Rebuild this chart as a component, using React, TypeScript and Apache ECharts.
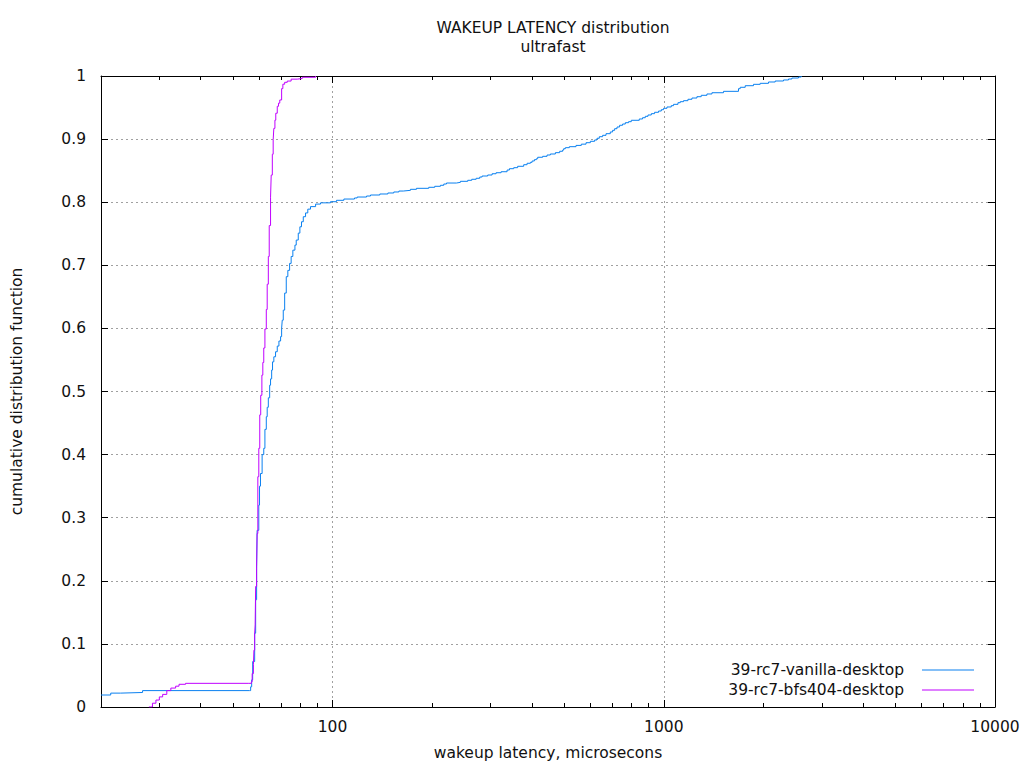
import React, { useEffect, useRef } from "react";
import * as echarts from "echarts";

const titleText = "WAKEUP LATENCY distribution";
const subtitleText = "ultrafast";
const xAxisName = "wakeup latency, microsecons";
const yAxisName = "cumulative distribution function";
const seriesNames = ["39-rc7-vanilla-desktop", "39-rc7-bfs404-desktop"];

const majorXTicks = [100, 1000, 10000];
const minorXTicks = [
  20, 30, 40, 50, 60, 70, 80, 90,
  200, 300, 400, 500, 600, 700, 800, 900,
  2000, 3000, 4000, 5000, 6000, 7000, 8000, 9000,
];

const vanillaX = [
  20, 21.4, 22.9, 26.7, 56.2, 56.6, 57.0, 57.4, 58.2, 58.6, 59.0, 59.2, 59.9, 60.2, 60.6,
  61.3, 62.0, 62.5, 63.1, 63.5, 64.0, 64.6, 65.0, 65.5, 65.9, 66.5, 67.3, 68.1, 68.9,
  69.7, 70.2, 70.5, 71.0, 71.7, 72.5, 73.3, 74.2, 75.0, 75.9, 77.0, 77.7, 78.8, 79.7,
  80.6, 81.6, 82.9, 84.2, 85.8, 88.9, 92.0,
  98.6, 102.8, 108.2, 116.5, 118.7, 126.7, 130.2, 138.9, 146.9, 153.1, 158.6, 163.5, 171.9,
  179.2, 195.2, 203.5, 211.7, 216.7, 220.8, 236.6, 243.3, 256.0, 263.2, 271.4, 278.3, 282.9,
  294.1, 303.2, 311.7, 322.8, 336.5, 342.0, 352.4, 362.2, 377.7, 386.7, 395.7, 400.4, 406.8,
  412.5, 416.3, 430.9, 444.3, 454.6, 470.7, 485.0, 495.2, 498.7, 504.6, 518.7, 543.4, 563.8,
  582.6, 600.3, 618.5, 628.8, 638.9, 653.8, 669.3, 689.6, 700.7, 710.6, 722.5, 735.7, 751.1,
  765.4, 783.0, 797.9, 843.5, 863.0, 879.5, 896.1, 917.0, 938.2, 964.7, 982.9, 998.6, 1022.6,
  1053.4, 1070.5, 1103.6, 1121.5, 1147.3, 1183.0, 1216.4, 1259.2, 1297.5, 1350.0, 1397.8,
  1515.0, 1681.2, 1701.4, 1761.6, 1866.0, 1954.8, 2071.0, 2169.7, 2298.6, 2379.9, 2436.5,
  2550.7, 2600,
];
const vanillaY = [
  0.019, 0.022, 0.023, 0.026, 0.026, 0.032, 0.043, 0.072, 0.117, 0.17, 0.22, 0.28, 0.32, 0.35, 0.37,
  0.40, 0.41, 0.44, 0.46, 0.475, 0.49, 0.51, 0.52, 0.534, 0.547, 0.555, 0.563, 0.572, 0.58,
  0.587, 0.60, 0.613, 0.629, 0.656, 0.682, 0.692, 0.703, 0.714, 0.724, 0.732, 0.74, 0.751, 0.761,
  0.769, 0.777, 0.783, 0.789, 0.793, 0.797, 0.799,
  0.8008, 0.803, 0.805, 0.8067, 0.8082, 0.8098, 0.8114, 0.813, 0.8146, 0.8162, 0.8177, 0.8188, 0.8204,
  0.822, 0.8236, 0.8252, 0.8268, 0.8288, 0.8304, 0.8315, 0.8331, 0.8347, 0.8363, 0.8379, 0.8399, 0.8415,
  0.8431, 0.8451, 0.8467, 0.8483, 0.851, 0.8531, 0.8547, 0.8569, 0.8594, 0.8617, 0.8632, 0.8653, 0.8674,
  0.8689, 0.8712, 0.8727, 0.8748, 0.8764, 0.8785, 0.8807, 0.8827, 0.8848, 0.8864, 0.888, 0.89, 0.892,
  0.8943, 0.8965, 0.8986, 0.9013, 0.9038, 0.906, 0.9086, 0.9113, 0.9139, 0.9165, 0.9192, 0.9219, 0.9239,
  0.926, 0.9276, 0.9298, 0.9319, 0.9339, 0.9361, 0.9382, 0.9403, 0.9425, 0.9445, 0.9466, 0.9488, 0.9509,
  0.953, 0.9551, 0.9577, 0.9593, 0.9609, 0.9631, 0.9651, 0.9672, 0.9694, 0.9715, 0.9735,
  0.9757, 0.9799, 0.9821, 0.9846, 0.9868, 0.9884, 0.9905, 0.9921, 0.9937, 0.9952, 0.9968,
  0.9984, 1.0,
];

const bfsX = [
  27.9, 28.6, 29.3, 30.0, 30.7, 31.6, 32.5, 33.6, 34.4, 36.0, 55.9, 56.9, 57.2, 57.7, 57.9,
  58.2, 58.4, 58.6, 59.0, 59.2, 59.5, 59.9, 60.3, 60.7, 61.2, 61.6, 62.0, 62.5, 63.1, 63.5,
  64.0, 64.4, 65.0, 65.3, 65.8, 66.2, 66.5, 67.0, 67.4, 68.1, 68.7, 69.3, 70.2, 70.8, 71.7,
  73.0, 75.0, 78.2, 81.0, 88.9,
];
const bfsY = [
  0, 0.006, 0.011, 0.016, 0.020, 0.026, 0.030, 0.033, 0.036, 0.0375, 0.0375, 0.040, 0.053, 0.067, 0.090,
  0.117, 0.130, 0.191, 0.222, 0.275, 0.365, 0.41, 0.463, 0.494, 0.526, 0.546, 0.569, 0.599, 0.630, 0.670,
  0.714, 0.763, 0.808, 0.843, 0.876, 0.899, 0.917, 0.930, 0.941, 0.952, 0.957, 0.962, 0.980, 0.987, 0.990,
  0.992, 0.995, 0.996, 0.998, 1.0,
];

const FONT = "DejaVu Sans";
const TEXT_COLOR = "#111";
const FONT_SIZE = 15.5;
const GRID_LINE = { type: [2, 3] as number[], color: "#a0a0a0", width: 1 };
const BLUE = "#0a80f0";
const PURPLE = "#c000ff";
const SERIES_COLORS = [BLUE, PURPLE];
const LEGEND_ICON = "path://M0,0 H0.01 V1 H0 Z M13,0 H65 V1 H13 Z";

function zip(xs: number[], ys: number[]) {
  return xs.map((x, i) => [x, ys[i]]);
}

export default function App() {
  const ref = useRef<HTMLDivElement>(null);

  useEffect(() => {
    if (!ref.current) return;
    const chart = echarts.init(ref.current, undefined, { renderer: "svg" });

    const baseLog = {
      type: "log" as const,
      logBase: 10,
      min: 20,
      max: 10000,
      gridIndex: 0,
    };

    chart.setOption({
      animation: false,
      backgroundColor: "#fff",
      color: SERIES_COLORS,
      textStyle: { fontFamily: FONT },
      title: {
        text: titleText,
        subtext: subtitleText,
        left: 548,
        textAlign: "center",
        top: 15,
        itemGap: 3,
        textStyle: { fontFamily: FONT, fontSize: FONT_SIZE, fontWeight: "normal", color: TEXT_COLOR },
        subtextStyle: { fontFamily: FONT, fontSize: FONT_SIZE, color: TEXT_COLOR },
      },
      grid: { left: 101, right: 29, top: 76, bottom: 61, containLabel: false },
      legend: {
        orient: "vertical",
        right: 45,
        top: 657,
        padding: 5,
        align: "right",
        icon: LEGEND_ICON,
        itemWidth: 65,
        itemHeight: 1,
        itemGap: 4,
        textStyle: { fontFamily: FONT, fontSize: FONT_SIZE, color: TEXT_COLOR },
        data: seriesNames.map((name, i) => ({
          name,
          icon: LEGEND_ICON,
          itemStyle: { color: SERIES_COLORS[i], borderWidth: 0 },
        })),
      },
      xAxis: [
        {
          ...baseLog,
          position: "bottom",
          axisLine: { show: true, lineStyle: { color: "#000", width: 1 } },
          axisTick: { show: true, inside: true, length: 7, customValues: majorXTicks, lineStyle: { color: "#000" } },
          axisLabel: {
            show: true,
            customValues: majorXTicks,
            formatter: (v: number) => String(Math.round(v)),
            color: TEXT_COLOR,
            fontSize: FONT_SIZE,
            fontFamily: FONT,
            margin: 12,
          },
          splitLine: { show: true, lineStyle: GRID_LINE },
          name: xAxisName,
          nameLocation: "middle",
          nameGap: 38,
          nameTextStyle: { fontFamily: FONT, fontSize: FONT_SIZE, color: TEXT_COLOR },
        },
        {
          ...baseLog,
          position: "bottom",
          axisLine: { show: false },
          axisTick: { show: true, inside: true, length: 4, customValues: minorXTicks, lineStyle: { color: "#000" } },
          axisLabel: { show: false },
          splitLine: { show: false },
        },
        {
          ...baseLog,
          position: "top",
          axisLine: { show: true, lineStyle: { color: "#000", width: 1 } },
          axisTick: { show: true, inside: true, length: 7, customValues: majorXTicks, lineStyle: { color: "#000" } },
          axisLabel: { show: false },
          splitLine: { show: false },
        },
        {
          ...baseLog,
          position: "top",
          axisLine: { show: false },
          axisTick: { show: true, inside: true, length: 4, customValues: minorXTicks, lineStyle: { color: "#000" } },
          axisLabel: { show: false },
          splitLine: { show: false },
        },
      ],
      yAxis: [
        {
          type: "value",
          min: 0,
          max: 1,
          interval: 0.1,
          position: "left",
          axisLine: { show: true, lineStyle: { color: "#000", width: 1 } },
          axisTick: { show: true, inside: true, length: 7, lineStyle: { color: "#000" } },
          axisLabel: { color: TEXT_COLOR, fontSize: FONT_SIZE, fontFamily: FONT, margin: 15 },
          splitLine: { show: true, lineStyle: GRID_LINE },
          name: yAxisName,
          nameLocation: "middle",
          nameGap: 76,
          nameRotate: 90,
          nameTextStyle: { fontFamily: FONT, fontSize: FONT_SIZE, color: TEXT_COLOR },
        },
        {
          type: "value",
          min: 0,
          max: 1,
          interval: 0.1,
          position: "right",
          axisLine: { show: true, lineStyle: { color: "#000", width: 1 } },
          axisTick: { show: true, inside: true, length: 7, lineStyle: { color: "#000" } },
          axisLabel: { show: false },
          splitLine: { show: false },
        },
      ],
      series: [
        {
          name: seriesNames[0],
          type: "line",
          step: "end",
          xAxisIndex: 0,
          yAxisIndex: 0,
          symbol: "none",
          data: zip(vanillaX, vanillaY),
          lineStyle: { color: BLUE, width: 1 },
          itemStyle: { color: BLUE },
        },
        {
          name: seriesNames[1],
          type: "line",
          step: "end",
          xAxisIndex: 0,
          yAxisIndex: 0,
          symbol: "none",
          data: zip(bfsX, bfsY),
          lineStyle: { color: PURPLE, width: 1 },
          itemStyle: { color: PURPLE },
        },
      ],
    });

    return () => chart.dispose();
  }, []);

  return (
    <div
      ref={ref}
      style={{ position: "fixed", left: 0, top: 0, width: 1024, height: 768, background: "#fff" }}
    />
  );
}
